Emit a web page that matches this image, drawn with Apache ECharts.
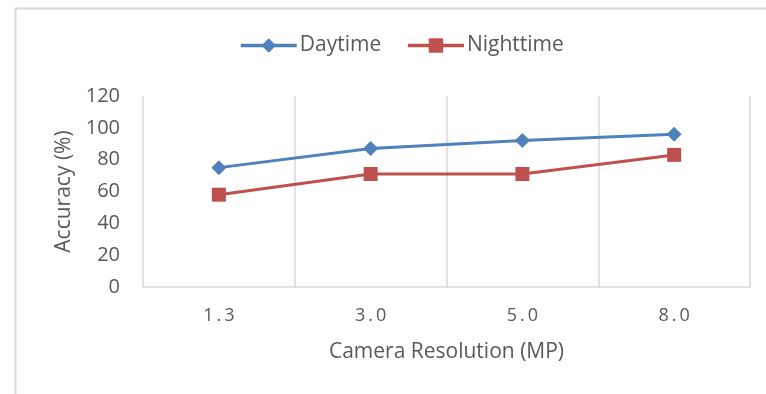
<!DOCTYPE html>
<html>
<head>
<meta charset="utf-8">
<script src="https://cdn.jsdelivr.net/npm/echarts@6/dist/echarts.min.js"></script>
<style>
  html, body { margin: 0; padding: 0; background: #fff; }
  #chart { width: 766px; height: 394px; }
</style>
</head>
<body>
<div id="chart"></div>
<script>
  const categories = ['1.3', '3.0', '5.0', '8.0']
  const daytime = [75, 87, 92, 96]
  const nighttime = [58, 71, 71, 83]
  const yTicks = { min: 0, max: 120, interval: 20 }

  const textColor = '#595959'
  const gridColor = '#d9d9d9'
  const font = '"Open Sans", sans-serif'

  const chart = echarts.init(document.getElementById('chart'))

  const option = {
    animation: false,
    graphic: [
      {
        type: 'rect',
        left: 13,
        top: 6,
        shape: { width: 800, height: 420 },
        style: { fill: 'none', stroke: '#d9d9d9', lineWidth: 2 },
        silent: true,
      },
    ],
    legend: {
      top: 30,
      left: 234,
      itemWidth: 56,
      itemHeight: 18,
      itemGap: 25,
      lineStyle: { width: 3.5 },
      textStyle: { fontSize: 21, color: textColor, fontFamily: font, padding: [0, 0, 0, -2] },
      data: ['Daytime', 'Nighttime'],
    },
    grid: {
      left: 143,
      right: 16,
      top: 96,
      bottom: 107,
    },
    xAxis: {
      type: 'category',
      data: categories,
      boundaryGap: true,
      axisLine: { lineStyle: { color: gridColor, width: 1.5 } },
      axisTick: { show: false },
      splitLine: { show: true, interval: 0, lineStyle: { color: gridColor, width: 1.5 } },
      axisLabel: {
        fontSize: 18,
        color: textColor,
        fontFamily: font,
        margin: 20,
        formatter: (v) => v.split('').join('\u2009'),
      },
      name: 'Camera Resolution (MP)',
      nameLocation: 'middle',
      nameGap: 55,
      nameTextStyle: { fontSize: 21, color: textColor, fontFamily: font },
    },
    yAxis: {
      type: 'value',
      min: yTicks.min,
      max: yTicks.max,
      interval: yTicks.interval,
      axisLine: { show: false },
      axisTick: { show: false },
      splitLine: { show: false },
      axisLabel: {
        fontSize: 20,
        color: textColor,
        fontFamily: font,
        margin: 23,
      },
      name: 'Accuracy (%)',
      nameLocation: 'middle',
      nameGap: 68,
      nameTextStyle: { fontSize: 21, color: textColor, fontFamily: font },
    },
    series: [
      {
        name: 'Daytime',
        type: 'line',
        data: daytime,
        symbol: 'diamond',
        symbolSize: 15,
        lineStyle: { color: '#4F81BD', width: 3 },
        itemStyle: { color: '#4F81BD' },
      },
      {
        name: 'Nighttime',
        type: 'line',
        data: nighttime,
        symbol: 'rect',
        symbolSize: 14,
        lineStyle: { color: '#C0504D', width: 3 },
        itemStyle: { color: '#C0504D' },
      },
    ],
  }

  chart.setOption(option)
</script>
</body>
</html>
